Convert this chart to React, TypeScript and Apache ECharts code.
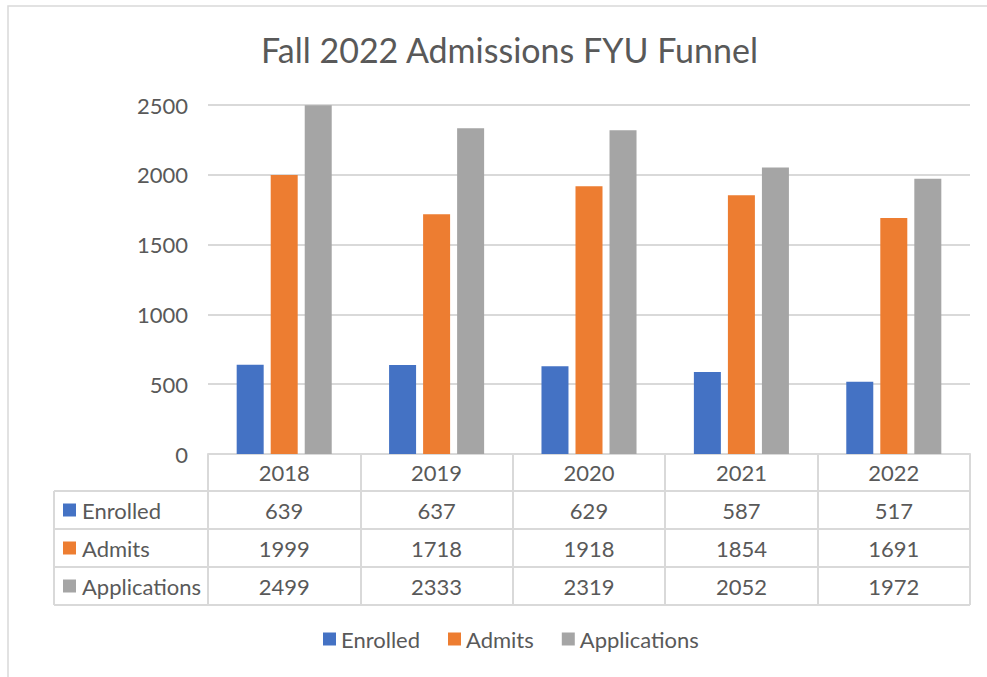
import React, { useEffect, useRef } from "react";
import * as echarts from "echarts";

const years = ["2018", "2019", "2020", "2021", "2022"];
const enrolled = [639, 637, 629, 587, 517];
const admits = [1999, 1718, 1918, 1854, 1691];
const applications = [2499, 2333, 2319, 2052, 1972];
const seriesNames = ["Enrolled", "Admits", "Applications"];
const colors = ["#4472c4", "#ed7d31", "#a5a5a5"];
const yTicks = { min: 0, max: 2500, interval: 500 };

const FONT = "Lato";
const TXT = "#595959";
const LINE = "#d9d9d9";

export default function App() {
  const ref = useRef<HTMLDivElement>(null);
  useEffect(() => {
    if (!ref.current) return;
    const chart = echarts.init(ref.current, null, { renderer: "svg" });
    const W = 987, H = 677;
    const gl = 208, gr = 970, gt = 105, gb = 454;
    const rowH = 38;
    const tableLeft = 54;
    const rowTops = [gb + 37, gb + 37 + rowH, gb + 37 + rowH * 2, gb + 37 + rowH * 3];
    const allValues = [enrolled, admits, applications];

    const graphics: any[] = [
      {
        type: "rect",
        shape: { x: 8, y: 6, width: W + 10, height: H + 10 },
        style: { fill: "none", stroke: LINE, lineWidth: 1.5 },
        silent: true,
      },
    ];
    rowTops.forEach((y) => {
      graphics.push({
        type: "line",
        shape: { x1: tableLeft, y1: y, x2: gr, y2: y },
        style: { stroke: LINE, lineWidth: 2 },
      });
    });
    graphics.push({
      type: "line",
      shape: { x1: tableLeft, y1: rowTops[0], x2: tableLeft, y2: rowTops[3] },
      style: { stroke: LINE, lineWidth: 2 },
    });
    seriesNames.forEach((n, i) => {
      const cy = rowTops[i] + rowH / 2;
      graphics.push({
        type: "rect",
        shape: { x: 63, y: cy - 6.5, width: 13, height: 13 },
        style: { fill: colors[i] },
      });
      graphics.push({
        type: "text",
        x: 82,
        y: cy,
        style: {
          text: n,
          fill: TXT,
          font: `22px ${FONT}`,
          verticalAlign: "middle",
        },
      });
    });

    chart.setOption({
      animation: false,
      textStyle: { fontFamily: FONT },
      title: {
        text: "Fall 2022 Admissions FYU Funnel",
        left: 256,
        top: 27,
        textStyle: { fontSize: 34, fontWeight: "normal", color: TXT, fontFamily: FONT },
      },
      legend: {
        data: seriesNames,
        bottom: 22,
        left: 318,
        icon: "rect",
        itemWidth: 13,
        itemHeight: 13,
        itemGap: 28,
        textStyle: { fontSize: 22, color: TXT, fontFamily: FONT },
      },
      grid: { left: gl, right: W - gr, top: gt, bottom: H - gb, containLabel: false },
      xAxis: {
        type: "category",
        data: years,
        axisLine: { show: true, lineStyle: { color: LINE, width: 2 } },
        axisTick: { show: true, length: rowTops[3] - gb, lineStyle: { color: LINE, width: 2 } },
        axisLabel: {
          margin: -1,
          fontSize: 22,
          color: TXT,
          fontFamily: FONT,
          lineHeight: rowH,
          formatter: (v: string, i: number) =>
            [v, enrolled[i], admits[i], applications[i]].join("\n"),
        },
      },
      yAxis: {
        type: "value",
        min: yTicks.min,
        max: yTicks.max,
        interval: yTicks.interval,
        axisLine: { show: false },
        axisTick: { show: false },
        axisLabel: {
          fontSize: 22,
          color: TXT,
          margin: 20,
          fontFamily: FONT,
          formatter: (v: number) => String(v),
        },
        splitLine: { lineStyle: { color: LINE, width: 2 } },
      },
      series: allValues.map((vals, i) => ({
        name: seriesNames[i],
        type: "bar",
        data: vals,
        barWidth: 27,
        barGap: "26%",
        itemStyle: { color: colors[i] },
      })),
      graphic: graphics,
    });
    return () => chart.dispose();
  }, []);
  return (
    <div
      ref={ref}
      style={{ position: "absolute", left: 0, top: 0, width: 987, height: 677, background: "#fff" }}
    />
  );
}
